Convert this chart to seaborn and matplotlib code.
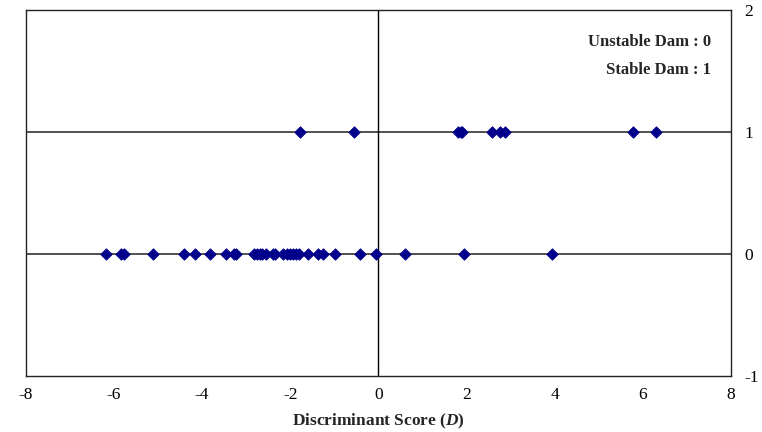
import numpy as np
import pandas as pd
import matplotlib
matplotlib.use("Agg")
import matplotlib.pyplot as plt
import seaborn as sns

# discriminant scores
unstable_scores = [-6.18, -5.85, -5.78, -5.12, -4.40, -4.17, -3.82, -3.46, -3.28, -3.23,
                   -2.82, -2.75, -2.69, -2.63, -2.54, -2.39, -2.35, -2.16, -2.08, -2.01,
                   -1.93, -1.86, -1.80, -1.59, -1.37, -1.25, -0.99, -0.42, -0.06, 0.60,
                   1.94, 3.95]
stable_scores = [-1.78, -0.56, 1.81, 1.87, 1.91, 2.59, 2.77, 2.87, 5.78, 6.30]
x_ticks = [-8, -6, -4, -2, 0, 2, 4, 6, 8]
y_ticks = [-1, 0, 1, 2]

df = pd.DataFrame({
    "score": unstable_scores + stable_scores,
    "group": [0] * len(unstable_scores) + [1] * len(stable_scores),
})

sns.set_theme(style="white")
plt.rcParams["font.family"] = ["Liberation Serif", "DejaVu Serif"]
plt.rcParams["mathtext.fontset"] = "custom"
plt.rcParams["mathtext.it"] = "Liberation Serif:italic:bold"
plt.rcParams["mathtext.rm"] = "Liberation Serif:bold"

fig = plt.figure(figsize=(7.62, 4.32), dpi=100)
ax = fig.add_axes([0.034, 0.130, 0.925, 0.847])

# gridlines at the two classes and the zero line
for yv in [0, 1]:
    ax.axhline(yv, color="#333333", lw=1.2, zorder=1)
ax.axvline(0, color="black", lw=1.0, zorder=1)

sns.scatterplot(data=df, x="score", y="group", marker="D", s=34,
                color="#00008B", edgecolor="#00008B", linewidth=0.6, ax=ax, zorder=3)

ax.set_xlim(-8, 8)
ax.set_ylim(-1, 2)
ax.set_xticks(x_ticks)
ax.set_xticklabels([str(t) for t in x_ticks])
ax.set_yticks(y_ticks)
ax.set_yticklabels([str(t) for t in y_ticks])
ax.yaxis.tick_right()
ax.tick_params(axis="both", length=0, labelsize=12.5, colors="black")
ax.tick_params(axis="x", pad=8)
ax.tick_params(axis="y", pad=10)
ax.set_ylabel("")
ax.set_xlabel(r"Discriminant Score ($D$)", fontsize=12.5, fontweight="bold", labelpad=6)

for sp in ax.spines.values():
    sp.set_color("#222222")
    sp.set_linewidth(1.0)

ax.text(0.972, 0.913, "Unstable Dam : 0", transform=ax.transAxes, ha="right", va="center",
        fontsize=12, fontweight="bold")
ax.text(0.972, 0.836, "Stable Dam : 1", transform=ax.transAxes, ha="right", va="center",
        fontsize=12, fontweight="bold")

fig.savefig("out.png", dpi=100)
